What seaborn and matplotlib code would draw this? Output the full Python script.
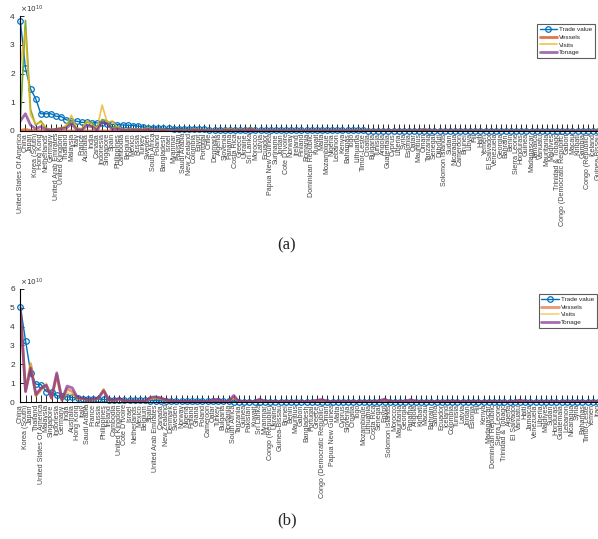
import seaborn as sns
import matplotlib.pyplot as plt

# ---------------- panel (a) ----------------
countries_a = [
    'United States Of America', 'China', 'Japan', 'Korea (South)', 'Hong Kong', 'Netherlands', 'Germany',
    'United Arab Emirates', 'United Kingdom', 'Thailand', 'Malaysia', 'Italy', 'France', 'Australia', 'India',
    'Canada', 'Indonesia', 'Singapore', 'Spain', 'Philippines', 'Cambodia', 'Belgium', 'Mexico', 'Russia',
    'Turkey', 'Sweden', 'South Africa', 'Poland', 'Bangladesh', 'Israel', 'Myanmar', 'Pakistan', 'Saudi Arabia',
    'New Zealand', 'Colombia', 'Egypt', 'Portugal', 'Chile', 'Denmark', 'Algeria', 'Slovenia', 'Panama',
    'Costa Rica', 'Greece', 'Ukraine', 'Sri Lanka', 'Morocco', 'Latvia', 'Ecuador', 'Papua New Guinea',
    'Suriname', 'Jordan', "Cote D'Ivoire", 'Norway', 'Ireland', 'Finland', 'Romania', 'Dominican Republic',
    'Kuwait', 'Malta', 'Mozambique', 'Nigeria', 'Lebanon', 'Kenya', 'Bahamas', 'Togo', 'Lithuania',
    'Timor-Leste', 'Croatia', 'Bulgaria', 'Tunisia', 'Angola', 'Guatemala', 'Cyprus', 'Liberia', 'Syria',
    'Estonia', 'Qatar', 'Mauritius', 'Oman', 'Tanzania', 'Senegal', 'Djibouti', 'Solomon Islands', 'Sudan',
    'Nicaragua', 'Cameroon', 'Brunei', 'Libya', 'Fiji', 'Haiti', 'Yemen', 'El Salvador', 'Venezuela',
    'Georgia', 'Bahrain', 'Benin', 'Sierra Leone', 'Honduras', 'Guinea', 'Madagascar', 'Jamaica', 'Vanuatu',
    'Mauritania', 'Maldives', 'Trinidad & Tobago', 'Congo (Democratic Republic)', 'Gabon', 'Macau',
    'Kiribati', 'Gambia', 'Congo (Republic)', 'Iceland', 'Guinea-Bissau']

# values in units of 1e10
trade_a = [
    3.83, 2.19, 1.46, 1.13, 0.60, 0.60, 0.60, 0.51, 0.50, 0.39,
    0.35, 0.34, 0.30, 0.30, 0.29, 0.28, 0.28, 0.25, 0.23, 0.22,
    0.21, 0.20, 0.19, 0.17, 0.14, 0.12, 0.11, 0.10, 0.09, 0.09,
    0.08, 0.08, 0.07, 0.07, 0.06, 0.06, 0.06, 0.05, 0.05, 0.05,
    0.05, 0.04, 0.04, 0.04, 0.04, 0.04, 0.03, 0.03, 0.03, 0.03,
    0.03, 0.03, 0.03, 0.03, 0.03, 0.02, 0.02, 0.02, 0.02, 0.02,
    0.02, 0.02, 0.02, 0.02, 0.02, 0.02, 0.02, 0.02, 0.015, 0.015,
    0.015, 0.015, 0.015, 0.015, 0.015, 0.015, 0.015, 0.015, 0.015, 0.015,
    0.01, 0.01, 0.01, 0.01, 0.01, 0.01, 0.01, 0.01, 0.01, 0.01,
    0.01, 0.01, 0.01, 0.01, 0.01, 0.01, 0.01, 0.01, 0.01, 0.01,
    0.008, 0.008, 0.008, 0.008, 0.008, 0.007, 0.007, 0.007, 0.007, 0.007,
    0.006, 0.006, 0.005, 0.005]
vessels_a = [
    0.02, 0.05, 0.02, 0.01, 0.01, 0.0, 0.0, 0.0, 0.0, 0.0,
    0.0, 0.0, 0.0, 0.0, 0.0, 0.0, 0.0, 0.0, 0.0, 0.0,
    0.0, 0.0, 0.0, 0.0, 0.0, 0.0, 0.0, 0.0, 0.0, 0.0,
    0.0, 0.0, 0.0, 0.0, 0.0, 0.0, 0.0, 0.0, 0.0, 0.0,
    0.0, 0.0, 0.0, 0.0, 0.0, 0.0, 0.0, 0.0, 0.0, 0.0,
    0.0, 0.0, 0.0, 0.0, 0.0, 0.0, 0.0, 0.0, 0.0, 0.0,
    0.0, 0.0, 0.0, 0.0, 0.0, 0.0, 0.0, 0.0, 0.0, 0.0,
    0.0, 0.0, 0.0, 0.0, 0.0, 0.0, 0.0, 0.0, 0.0, 0.0,
    0.0, 0.0, 0.0, 0.0, 0.0, 0.0, 0.0, 0.0, 0.0, 0.0,
    0.0, 0.0, 0.0, 0.0, 0.0, 0.0, 0.0, 0.0, 0.0, 0.0,
    0.0, 0.0, 0.0, 0.0, 0.0, 0.0, 0.0, 0.0, 0.0, 0.0,
    0.0, 0.0, 0.0, 0.0]
visits_a = [
    2.30, 3.50, 0.55, 0.25, 0.30, 0.08, 0.05, 0.05, 0.10, 0.20,
    0.55, 0.10, 0.08, 0.35, 0.20, 0.08, 0.90, 0.30, 0.35, 0.12,
    0.05, 0.05, 0.05, 0.06, 0.05, 0.10, 0.03, 0.04, 0.05, 0.03,
    0.03, 0.04, 0.03, 0.03, 0.06, 0.03, 0.04, 0.03, 0.03, 0.03,
    0.05, 0.05, 0.03, 0.05, 0.03, 0.08, 0.03, 0.02, 0.02, 0.02,
    0.02, 0.02, 0.02, 0.02, 0.02, 0.02, 0.02, 0.02, 0.02, 0.02,
    0.02, 0.02, 0.02, 0.02, 0.02, 0.02, 0.02, 0.02, 0.02, 0.02,
    0.02, 0.02, 0.02, 0.02, 0.02, 0.02, 0.02, 0.02, 0.02, 0.05,
    0.02, 0.02, 0.02, 0.02, 0.02, 0.02, 0.02, 0.02, 0.02, 0.02,
    0.01, 0.01, 0.01, 0.01, 0.01, 0.01, 0.01, 0.01, 0.01, 0.01,
    0.01, 0.01, 0.01, 0.01, 0.01, 0.01, 0.01, 0.01, 0.01, 0.01,
    0.01, 0.01, 0.01, 0.01]
tonage_a = [
    0.35, 0.60, 0.20, 0.08, 0.15, 0.05, 0.03, 0.05, 0.08, 0.10,
    0.25, 0.05, 0.03, 0.18, 0.15, 0.03, 0.30, 0.25, 0.05, 0.08,
    0.03, 0.03, 0.03, 0.04, 0.03, 0.06, 0.02, 0.02, 0.03, 0.01,
    0.02, 0.02, 0.01, 0.02, 0.04, 0.02, 0.02, 0.01, 0.02, 0.01,
    0.03, 0.03, 0.01, 0.03, 0.01, 0.08, 0.01, 0.01, 0.01, 0.01,
    0.01, 0.01, 0.01, 0.01, 0.01, 0.01, 0.01, 0.01, 0.01, 0.01,
    0.01, 0.01, 0.01, 0.01, 0.01, 0.01, 0.01, 0.01, 0.01, 0.01,
    0.01, 0.01, 0.01, 0.01, 0.01, 0.01, 0.01, 0.01, 0.01, 0.04,
    0.01, 0.01, 0.01, 0.01, 0.01, 0.01, 0.01, 0.01, 0.01, 0.01,
    0.0, 0.0, 0.0, 0.0, 0.0, 0.0, 0.0, 0.0, 0.0, 0.0,
    0.0, 0.0, 0.0, 0.0, 0.0, 0.0, 0.0, 0.0, 0.0, 0.0,
    0.0, 0.0, 0.0, 0.0]
# unlabeled green trace seen in (a)
extra_a = [
    0.40, 3.85, 0.75, 0.20, 0.35, 0.10, 0.05, 0.08, 0.10, 0.15,
    0.35, 0.10, 0.05, 0.30, 0.30, 0.05, 0.40, 0.35, 0.10, 0.15,
    0.05, 0.05, 0.06, 0.08, 0.05, 0.12, 0.04, 0.05, 0.06, 0.03,
    0.04, 0.05, 0.03, 0.04, 0.08, 0.04, 0.05, 0.03, 0.04, 0.03,
    0.06, 0.07, 0.04, 0.06, 0.03, 0.12, 0.03, 0.02, 0.02, 0.02,
    0.02, 0.02, 0.02, 0.02, 0.02, 0.02, 0.02, 0.02, 0.02, 0.02,
    0.02, 0.02, 0.02, 0.02, 0.02, 0.02, 0.02, 0.02, 0.02, 0.02,
    0.02, 0.02, 0.02, 0.02, 0.02, 0.02, 0.02, 0.02, 0.02, 0.08,
    0.02, 0.02, 0.02, 0.02, 0.02, 0.02, 0.02, 0.02, 0.02, 0.02,
    0.01, 0.01, 0.01, 0.01, 0.01, 0.01, 0.01, 0.01, 0.01, 0.01,
    0.01, 0.01, 0.01, 0.01, 0.01, 0.01, 0.01, 0.01, 0.01, 0.01,
    0.01, 0.01, 0.01, 0.01]

# ---------------- panel (b) ----------------
countries_b = [
    'China', 'Korea (South)', 'Japan', 'Thailand', 'United States Of America', 'Malaysia', 'Singapore',
    'Indonesia', 'Germany', 'India', 'Australia', 'Hong Kong', 'Italy', 'Saudi Arabia', 'France', 'Russia',
    'Philippines', 'Ireland', 'Cambodia', 'United Kingdom', "Cote D'Ivoire", 'Israel', 'Netherlands',
    'Mexico', 'Belgium', 'Spain', 'United Arab Emirates', 'Canada', 'New Zealand', 'Denmark', 'Sweden',
    'Norway', 'Nigeria', 'Finland', 'Ghana', 'Poland', 'Cameroon', 'Qatar', 'Turkey', 'Bulgaria', 'Romania',
    'South Africa', 'Tanzania', 'Guinea', 'Pakistan', 'Kuwait', 'Sri Lanka', 'Myanmar', 'Congo (Republic)',
    'Ukraine', 'Guinea-Bissau', 'Brunei', 'Benin', 'Mauritius', 'Gabon', 'Bangladesh', 'Portugal', 'Greece',
    'Congo (Democratic Republic)', 'Oman', 'Papua New Guinea', 'Malta', 'Cyprus', 'Slovenia', 'Croatia',
    'Togo', 'Mozambique', 'Lithuania', 'Costa Rica', 'Senegal', 'Egypt', 'Solomon Islands', 'Morocco',
    'Mauritania', 'Georgia', 'Panama', 'Angola', 'Kiribati', 'Macau', 'Bahrain', 'Samoa', 'Ecuador',
    'Iceland', 'Colombia', 'Tunisia', 'Latvia', 'Jordan', 'Estonia', 'Fiji', 'Kenya', 'Madagascar',
    'Dominican Republic', 'Sierra Leone', 'Trinidad & Tobago', 'Algeria', 'El Salvador', 'Vanuatu', 'Haiti',
    'Jamaica', 'Venezuela', 'Liberia', 'Maldives', 'Sudan', 'Honduras', 'Guatemala', 'Lebanon', 'Nicaragua',
    'Syria', 'Bahamas', 'Timor-Leste', 'Yemen', 'Iraq']

trade_b = [
    5.06, 3.26, 1.53, 0.95, 0.92, 0.56, 0.53, 0.35, 0.30, 0.28,
    0.25, 0.21, 0.19, 0.18, 0.16, 0.16, 0.14, 0.13, 0.12, 0.12,
    0.11, 0.10, 0.10, 0.09, 0.09, 0.08, 0.08, 0.07, 0.07, 0.06,
    0.06, 0.06, 0.05, 0.05, 0.05, 0.05, 0.04, 0.04, 0.04, 0.04,
    0.04, 0.03, 0.03, 0.03, 0.03, 0.03, 0.03, 0.03, 0.02, 0.02,
    0.02, 0.02, 0.02, 0.02, 0.02, 0.02, 0.02, 0.02, 0.02, 0.02,
    0.015, 0.015, 0.015, 0.015, 0.015, 0.015, 0.015, 0.015, 0.015, 0.015,
    0.01, 0.01, 0.01, 0.01, 0.01, 0.01, 0.01, 0.01, 0.01, 0.01,
    0.01, 0.01, 0.01, 0.01, 0.01, 0.01, 0.01, 0.01, 0.01, 0.01,
    0.008, 0.008, 0.008, 0.008, 0.008, 0.008, 0.008, 0.008, 0.008, 0.008,
    0.006, 0.006, 0.006, 0.006, 0.006, 0.006, 0.006, 0.006, 0.006, 0.006,
    0.005, 0.005]
vessels_b = [
    5.00, 0.60, 2.00, 0.35, 0.70, 0.85, 0.20, 1.45, 0.10, 0.70,
    0.55, 0.20, 0.18, 0.10, 0.12, 0.20, 0.65, 0.10, 0.08, 0.15,
    0.05, 0.05, 0.05, 0.05, 0.05, 0.20, 0.25, 0.20, 0.10, 0.05,
    0.04, 0.03, 0.03, 0.02, 0.02, 0.03, 0.02, 0.08, 0.10, 0.02,
    0.02, 0.25, 0.02, 0.02, 0.02, 0.02, 0.12, 0.02, 0.02, 0.02,
    0.02, 0.02, 0.02, 0.02, 0.02, 0.02, 0.02, 0.08, 0.10, 0.02,
    0.02, 0.02, 0.02, 0.02, 0.02, 0.02, 0.02, 0.02, 0.02, 0.05,
    0.12, 0.02, 0.03, 0.02, 0.02, 0.10, 0.02, 0.02, 0.02, 0.02,
    0.02, 0.02, 0.02, 0.05, 0.02, 0.02, 0.02, 0.02, 0.02, 0.02,
    0.01, 0.01, 0.01, 0.01, 0.01, 0.01, 0.08, 0.01, 0.01, 0.01,
    0.01, 0.01, 0.01, 0.01, 0.01, 0.01, 0.01, 0.01, 0.01, 0.01,
    0.01, 0.01]
visits_b = [
    5.00, 0.70, 2.10, 0.30, 0.60, 1.00, 0.20, 1.30, 0.10, 0.50,
    0.40, 0.20, 0.15, 0.10, 0.12, 0.18, 0.70, 0.08, 0.08, 0.12,
    0.05, 0.05, 0.05, 0.05, 0.05, 0.15, 0.20, 0.15, 0.08, 0.05,
    0.04, 0.03, 0.03, 0.02, 0.02, 0.03, 0.02, 0.10, 0.10, 0.02,
    0.02, 0.22, 0.02, 0.02, 0.02, 0.02, 0.10, 0.02, 0.02, 0.02,
    0.02, 0.02, 0.02, 0.02, 0.02, 0.02, 0.02, 0.08, 0.08, 0.02,
    0.02, 0.02, 0.02, 0.02, 0.02, 0.02, 0.02, 0.02, 0.02, 0.05,
    0.10, 0.02, 0.03, 0.02, 0.02, 0.10, 0.02, 0.02, 0.02, 0.02,
    0.02, 0.02, 0.02, 0.04, 0.02, 0.02, 0.02, 0.02, 0.02, 0.02,
    0.01, 0.01, 0.01, 0.01, 0.01, 0.01, 0.07, 0.01, 0.01, 0.01,
    0.01, 0.01, 0.01, 0.01, 0.01, 0.01, 0.01, 0.01, 0.01, 0.01,
    0.01, 0.01]
tonage_b = [
    5.00, 0.55, 1.80, 0.40, 0.75, 0.90, 0.22, 1.55, 0.12, 0.85,
    0.75, 0.22, 0.20, 0.12, 0.15, 0.22, 0.60, 0.12, 0.10, 0.18,
    0.06, 0.06, 0.06, 0.06, 0.06, 0.25, 0.28, 0.22, 0.12, 0.06,
    0.05, 0.04, 0.04, 0.03, 0.03, 0.04, 0.03, 0.12, 0.14, 0.03,
    0.03, 0.35, 0.03, 0.03, 0.03, 0.03, 0.16, 0.03, 0.03, 0.03,
    0.03, 0.03, 0.03, 0.03, 0.03, 0.03, 0.03, 0.10, 0.14, 0.03,
    0.03, 0.03, 0.03, 0.03, 0.03, 0.03, 0.03, 0.03, 0.03, 0.07,
    0.16, 0.03, 0.04, 0.03, 0.03, 0.13, 0.03, 0.03, 0.03, 0.03,
    0.03, 0.03, 0.03, 0.06, 0.03, 0.03, 0.03, 0.03, 0.03, 0.03,
    0.02, 0.02, 0.02, 0.02, 0.02, 0.02, 0.10, 0.02, 0.02, 0.02,
    0.02, 0.02, 0.02, 0.02, 0.02, 0.02, 0.02, 0.02, 0.02, 0.02,
    0.02, 0.02]

BLUE, ORANGE, YELLOW, PURPLE, GREEN = '#0072BD', '#D95319', '#EDB120', '#7E2F8E', '#77AC30'

sns.set_style("ticks")
plt.rcParams['font.family'] = ['Liberation Sans', 'DejaVu Sans']

fig = plt.figure(figsize=(5.98, 5.39), dpi=100)
ax_a = fig.add_axes([0.034, 0.757, 0.966, 0.213])
ax_b = fig.add_axes([0.034, 0.254, 0.966, 0.210])


def draw(ax, countries, trade, vessels, visits, tonage, ymax, extra=None, alpha=1.0):
    x = list(range(len(countries)))
    sns.lineplot(x=x, y=trade, ax=ax, color=BLUE, lw=1.0, marker='o', markersize=4,
                 markerfacecolor='none', markeredgecolor=BLUE, markeredgewidth=0.9,
                 label='Trade value', clip_on=False, zorder=2)
    if extra is not None:
        sns.lineplot(x=x, y=extra, ax=ax, color=GREEN, lw=1.2, label='_nolegend_', zorder=2.1)
    sns.lineplot(x=x, y=vessels, ax=ax, color=ORANGE, lw=2.0, alpha=alpha, label='Vessels', zorder=2.2)
    sns.lineplot(x=x, y=visits, ax=ax, color=YELLOW, lw=1.2, alpha=alpha, label='Visits', zorder=2.3)
    sns.lineplot(x=x, y=tonage, ax=ax, color=PURPLE, lw=2.0, alpha=0.7, label='Tonage', zorder=2.4)
    ax.set_xlim(0, len(countries) - 1)
    ax.set_ylim(0, ymax)
    ax.set_yticks(range(ymax + 1))
    ax.set_xticks(x)
    ax.set_xticklabels(countries, rotation=90, fontsize=5.1, color='#444444')
    ax.tick_params(axis='x', direction='in', length=5, width=0.7, pad=1.5, top=False)
    ax.tick_params(axis='y', direction='in', length=3, width=0.7, labelsize=6, pad=4,
                   labelcolor='#333333')
    sns.despine(ax=ax, top=True, right=True)
    for s in ['left', 'bottom']:
        ax.spines[s].set_linewidth(0.8)
        ax.spines[s].set_color('black')
    ax.set_xlabel('')
    ax.set_ylabel('')
    ax.text(0.0, 1.01, r'$\times10^{10}$', transform=ax.transAxes, fontsize=5.2,
            ha='left', va='bottom', color='#333333')


draw(ax_a, countries_a, trade_a, vessels_a, visits_a, tonage_a, 4, extra=extra_a, alpha=0.8)
draw(ax_b, countries_b, trade_b, vessels_b, visits_b, tonage_b, 6, alpha=0.6)

for ax, anchor in [(ax_a, (0.995, 0.955)), (ax_b, (0.998, 0.4545))]:
    leg = ax.legend(loc='upper right', bbox_to_anchor=anchor, bbox_transform=fig.transFigure,
                    fontsize=4.6, frameon=True, fancybox=False, edgecolor='#333333',
                    handlelength=2.8, handletextpad=0.3, borderpad=0.4, labelspacing=0.35,
                    borderaxespad=0)
    leg.get_frame().set_linewidth(0.8)

fig.text(0.48, 0.545, '(a)', ha='center', va='center', fontsize=12, family='Liberation Serif')
fig.text(0.48, 0.035, '(b)', ha='center', va='center', fontsize=12, family='Liberation Serif')

fig.savefig('out.png', dpi=100)
